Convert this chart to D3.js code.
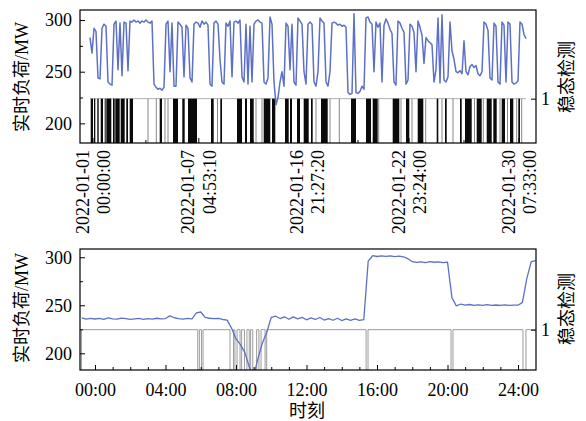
<!DOCTYPE html>
<html>
<head>
<meta charset="utf-8">
<script src="https://cdn.jsdelivr.net/npm/d3@7/dist/d3.min.js"></script>
<style>
  body { margin: 0; background: #fff; }
  svg text { fill: #000; }
</style>
</head>
<body>
<svg id="chart" width="586" height="421"></svg>
<script>
// ---- January load, one value per plotted sample (MW) ----
const loadMonth = [
  283, 268, 292, 289, 244, 243, 292, 296, 294, 240,
  238, 237, 296, 299, 252, 297, 246, 298, 297, 251,
  299, 298, 300, 298, 299, 297, 299, 298, 300, 298,
  297, 299, 238, 235, 233, 234, 232, 235, 296, 299,
  250, 297, 236, 236, 298, 296, 293, 245, 295, 292,
  244, 240, 296, 298, 297, 293, 299, 296, 298, 295,
  238, 236, 297, 299, 296, 262, 240, 238, 297, 294,
  299, 245, 298, 299, 297, 300, 245, 240, 296, 238,
  294, 240, 296, 299, 300, 298, 297, 240, 238, 244,
  303, 296, 240, 218, 225, 240, 250, 236, 297, 294,
  252, 296, 240, 237, 302, 299, 296, 250, 238, 296,
  298, 296, 240, 236, 250, 302, 299, 297, 240, 236,
  250, 297, 298, 297, 295, 296, 294, 295, 293, 230,
  228, 229, 306, 230, 229, 231, 236, 233, 302, 303,
  298, 296, 250, 298, 293, 297, 240, 295, 301, 297,
  291, 287, 240, 237, 299, 297, 292, 288, 238, 242,
  296, 294, 288, 250, 299, 293, 285, 258, 283, 280,
  278, 276, 240, 252, 302, 239, 305, 242, 240, 245,
  298, 270, 262, 250, 249, 251, 248, 280, 250, 247,
  255, 257, 254, 256, 248, 246, 250, 298, 296, 290,
  244, 242, 297, 294, 240, 238, 298, 295, 240, 298,
  296, 240, 238, 239, 241, 298, 296, 286, 282
];
// sample positions of the labelled instants
const monthTickPos = [1.25, 54.15, 108.25, 159.25, 214.25];
const monthTickDate = ["2022-01-01", "2022-01-07", "2022-01-16", "2022-01-22", "2022-01-30"];
const monthTickTime = ["00:00:00", "04:53:10", "21:27:20", "23:24:00", "07:33:00"];
// spans where the steady-state flag switches rapidly (sample positions)
const monthUnsteady = [
  [0.35, 1.5], [2, 2.65], [3.65, 4.35], [5.35, 6.5], [7.35, 7.65], [8.15, 10.65],
  [11.5, 12.35], [12.65, 14.85], [15.35, 17.35], [18.15, 19], [19.85, 21.5],
  [34.85, 36], [41.5, 44], [46.15, 47.35], [49, 53.5], [60.5, 61.85], [65.15, 66],
  [73.5, 76], [77.5, 78.5], [80, 81.85], [86.85, 90.15], [91, 92.65], [97.5, 99.35],
  [100, 101], [103.5, 105], [106.85, 109.35], [110.5, 111.35], [115.5, 118.85],
  [130.5, 133], [138, 140.5], [141.35, 143.85], [151.35, 154.65], [158, 159.65],
  [163.85, 166.65], [173.35, 174.15], [177.5, 178.35], [185, 185.85], [187.5, 190.85],
  [193.35, 195.85], [198.35, 200.85], [201.65, 203.35], [205.85, 207.5], [210, 211.65],
  [214.15, 215]
];
// isolated single switches (sample positions)
const monthFlicker = [
  29, 33.15, 37.5, 39, 63.75, 83, 86, 113, 120, 124.65, 144.35, 155.5, 161,
  167.85, 176, 181.5, 192.25, 196.65, 205, 208.75, 213.35, 215.85
];

// ---- one day, every 15 minutes from -0:45 (MW) ----
const dayStart = -0.75;
const dayStep = 0.25;
const loadDay = [
  237.0, 235.6, 236.4, 235.7, 236.3, 235.3, 236.9, 235.9, 235.5, 236.7,
  236.0, 235.4, 235.9, 236.4, 235.3, 236.1, 235.6, 236.5, 235.8, 236.2,
  239.0, 237.0, 236.1, 235.6, 236.4, 235.9, 242.0, 243.0, 237.4, 236.5,
  236.0, 236.3, 235.2, 234.5, 226.0, 215.0, 209.0, 201.0, 186.0, 176.0,
  195.0, 211.0, 222.0, 237.5, 238.6, 236.2, 238.0, 235.4, 237.9, 235.8,
  237.4, 234.9, 236.8, 235.2, 237.3, 234.6, 236.2, 234.4, 236.5, 234.1,
  235.8, 234.3, 235.9, 234.2, 235.0, 296.0, 301.6, 300.8, 301.5, 300.9,
  301.4, 300.7, 301.2, 300.5, 298.5, 295.4, 294.6, 295.2, 294.3, 295.5,
  294.8, 295.1, 294.4, 294.9, 258.0, 249.3, 251.3, 250.2, 250.8, 249.9,
  250.5, 250.0, 250.6, 249.8, 250.3, 249.9, 250.4, 250.0, 250.2, 250.1,
  253.0, 278.0, 295.5, 296.5
];
// steady-state flag as [hour, state] change points
const dayState = [
  [-0.8, 0], [-0.77, 1], [5.83, 0], [5.92, 1], [6.04, 0], [6.13, 1],
  [7.66, 0], [7.86, 1], [7.94, 0], [8.06, 1], [8.23, 0], [8.32, 1],
  [8.48, 0], [8.62, 1], [8.75, 0], [8.83, 1], [8.95, 0], [9.17, 1],
  [9.3, 0], [9.42, 1], [9.65, 0], [9.74, 1], [15.38, 0], [15.49, 1],
  [20.2, 0], [20.31, 1], [24.28, 0], [24.45, 1], [25.0, 1]
];
const dayTicks = [0, 4, 8, 12, 16, 20, 24];
const loadTicks = [200, 250, 300];
const loadMinor = [225, 275];

const serif = "'Liberation Serif','Times New Roman',serif";
const cjk = "'Liberation Serif','Noto Sans CJK SC',sans-serif";
const blue = "#5d70c6";
const flagGray = "#9c9c9c";

const svg = d3.select("#chart");

const P1 = { l: 80, r: 536, t: 10, b: 143 };
const P2 = { l: 80, r: 536, t: 249, b: 370 };

// scales
const xM = d3.scaleLinear().domain([-5, 223]).range([P1.l, P1.r]);
const yM = d3.scaleLinear().domain([181, 309.7]).range([P1.b, P1.t]);
const sM = d3.scaleLinear().domain([0, 3]).range([P1.b, P1.t]);

const xD = d3.scaleLinear().domain([-0.851, 25.02]).range([P2.l, P2.r]);
const yD = d3.scaleLinear().domain([182.6, 308.6]).range([P2.b, P2.t]);
const sD = d3.scaleLinear().domain([0, 3]).range([P2.b, P2.t]);

function clip(id, P) {
  svg.append("clipPath").attr("id", id).append("rect")
    .attr("x", P.l).attr("y", P.t).attr("width", P.r - P.l).attr("height", P.b - P.t);
}
clip("c1", P1);
clip("c2", P2);

function styleAxis(g) {
  g.select(".domain").remove();
  g.selectAll(".tick line").attr("stroke", "#000").attr("stroke-width", 1);
  g.selectAll(".tick text").attr("font-family", serif).attr("font-size", 18).attr("fill", "#000");
}

// ================= upper panel: January =================
const g1 = svg.append("g").attr("clip-path", "url(#c1)");

// steady flag baseline at 1
g1.append("line")
  .attr("x1", xM(0)).attr("x2", xM(loadMonth.length - 1))
  .attr("y1", sM(1)).attr("y2", sM(1))
  .attr("stroke", "#b0b0b0").attr("stroke-width", 1);

g1.selectAll("line.flick").data(monthFlicker).enter().append("line")
  .attr("class", "flick")
  .attr("x1", d => xM(d)).attr("x2", d => xM(d))
  .attr("y1", sM(1)).attr("y2", sM(0))
  .attr("stroke", "#888").attr("stroke-width", 1);

g1.selectAll("rect.uns").data(monthUnsteady).enter().append("rect")
  .attr("class", "uns")
  .attr("x", d => xM(d[0]))
  .attr("width", d => Math.max(1, xM(d[1]) - xM(d[0])))
  .attr("y", sM(1)).attr("height", sM(0) - sM(1))
  .attr("fill", "#0a0a0a");

g1.append("path")
  .datum(loadMonth)
  .attr("fill", "none").attr("stroke", blue).attr("stroke-width", 1.5)
  .attr("stroke-linejoin", "round")
  .attr("d", d3.line().x((d, i) => xM(i)).y(d => yM(d)));

// axes
svg.append("g").attr("transform", `translate(${P1.l},0)`)
  .call(d3.axisLeft(yM).tickValues(loadTicks).tickSize(-5).tickPadding(8).tickFormat(d3.format("d")))
  .call(styleAxis);
svg.append("g").attr("transform", `translate(${P1.l},0)`)
  .call(d3.axisLeft(yM).tickValues(loadMinor).tickSize(-3).tickFormat(""))
  .call(styleAxis);
svg.append("g").attr("transform", `translate(${P1.r},0)`)
  .call(d3.axisRight(sM).tickValues([1]).tickSize(-5).tickPadding(5).tickFormat(d3.format("d")))
  .call(styleAxis);
svg.append("g").attr("transform", `translate(0,${P1.b})`)
  .call(d3.axisBottom(xM).tickValues(monthTickPos).tickSize(-5).tickFormat(""))
  .call(styleAxis);
const monthMid = d3.pairs(monthTickPos).map(p => (p[0] + p[1]) / 2);
svg.append("g").attr("transform", `translate(0,${P1.b})`)
  .call(d3.axisBottom(xM).tickValues(monthMid).tickSize(-3).tickFormat(""))
  .call(styleAxis);

// rotated two-line time labels
const ml = svg.append("g").selectAll("g").data(monthTickPos).enter().append("g")
  .attr("transform", d => `translate(${xM(d)},${P1.b + 7}) rotate(-90)`);
ml.append("text").attr("text-anchor", "end").attr("x", 0).attr("y", -4)
  .attr("font-family", serif).attr("font-size", 18)
  .text((d, i) => monthTickDate[i]);
ml.append("text").attr("text-anchor", "end").attr("x", 0).attr("y", 17.5)
  .attr("font-family", serif).attr("font-size", 18)
  .text((d, i) => monthTickTime[i]);

svg.append("rect").attr("x", P1.l).attr("y", P1.t)
  .attr("width", P1.r - P1.l).attr("height", P1.b - P1.t)
  .attr("fill", "none").attr("stroke", "#000").attr("stroke-width", 1.2);

// ================= lower panel: one day =================
const g2 = svg.append("g").attr("clip-path", "url(#c2)");

g2.append("path")
  .datum(dayState)
  .attr("fill", "none").attr("stroke", flagGray).attr("stroke-width", 1)
  .attr("d", d3.line().curve(d3.curveStepAfter).x(d => xD(d[0])).y(d => sD(d[1])));

g2.append("path")
  .datum(loadDay)
  .attr("fill", "none").attr("stroke", blue).attr("stroke-width", 1.3)
  .attr("stroke-linejoin", "round")
  .attr("d", d3.line().x((d, i) => xD(dayStart + i * dayStep)).y(d => yD(d)));

svg.append("g").attr("transform", `translate(${P2.l},0)`)
  .call(d3.axisLeft(yD).tickValues(loadTicks).tickSize(-5).tickPadding(8).tickFormat(d3.format("d")))
  .call(styleAxis);
svg.append("g").attr("transform", `translate(${P2.l},0)`)
  .call(d3.axisLeft(yD).tickValues(loadMinor).tickSize(-3).tickFormat(""))
  .call(styleAxis);
svg.append("g").attr("transform", `translate(${P2.r},0)`)
  .call(d3.axisRight(sD).tickValues([1]).tickSize(-5).tickPadding(5).tickFormat(d3.format("d")))
  .call(styleAxis);
svg.append("g").attr("transform", `translate(0,${P2.b})`)
  .call(d3.axisBottom(xD).tickValues(dayTicks).tickSize(-5).tickPadding(13)
    .tickFormat(h => String(h).padStart(2, "0") + ":00"))
  .call(styleAxis);
svg.append("g").attr("transform", `translate(0,${P2.b})`)
  .call(d3.axisBottom(xD).tickValues(d3.range(1, 25).filter(h => h % 4 !== 0)).tickSize(-3).tickFormat(""))
  .call(styleAxis);

svg.append("rect").attr("x", P2.l).attr("y", P2.t)
  .attr("width", P2.r - P2.l).attr("height", P2.b - P2.t)
  .attr("fill", "none").attr("stroke", "#000").attr("stroke-width", 1.2);

// ================= axis titles =================
function vTitle(x, y, txt) {
  svg.append("text")
    .attr("transform", `translate(${x},${y}) rotate(-90)`)
    .attr("text-anchor", "middle").attr("dominant-baseline", "central")
    .attr("font-family", cjk).attr("font-size", 18)
    .text(txt);
}
vTitle(22, 77, "实时负荷/MW");
vTitle(567, 77, "稳态检测");
vTitle(22, 308, "实时负荷/MW");
vTitle(567, 309, "稳态检测");

svg.append("text")
  .attr("x", 307).attr("y", 417)
  .attr("text-anchor", "middle")
  .attr("font-family", cjk).attr("font-size", 18)
  .text("时刻");
</script>
</body>
</html>
